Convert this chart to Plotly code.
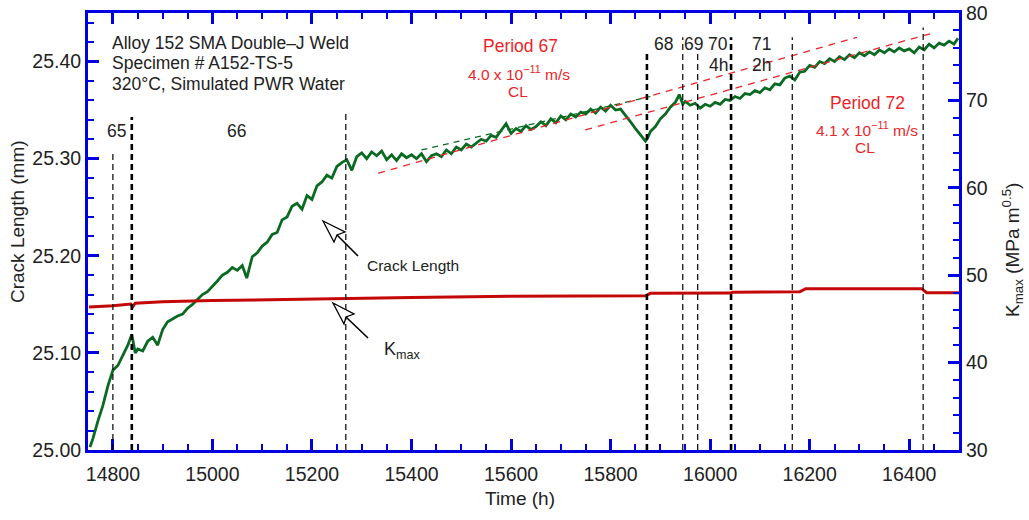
import plotly.graph_objects as go

# ---------------- data ----------------
time_h = [14754, 14760, 14770, 14780, 14790, 14800, 14810, 14820, 14830, 14838, 14845, 14850,
          14860, 14870, 14880, 14890, 14900, 14910, 14920, 14930, 14940, 14950, 14960, 14970,
          14980, 14990, 15000, 15010, 15020, 15030, 15040, 15050, 15060, 15069, 15080, 15090,
          15100, 15110, 15120, 15130, 15140, 15150, 15160, 15170, 15180, 15190, 15200, 15210,
          15220, 15230, 15240, 15250, 15260, 15270, 15280, 15290, 15300, 15310, 15320, 15330,
          15340, 15350, 15360, 15370, 15380, 15390, 15400, 15410, 15420, 15430, 15440, 15450,
          15460, 15470, 15480, 15490, 15500, 15510, 15520, 15530, 15540, 15550, 15560, 15570,
          15580, 15590, 15600, 15610, 15620, 15630, 15640, 15650, 15660, 15670, 15680, 15690,
          15700, 15710, 15720, 15730, 15740, 15750, 15760, 15770, 15780, 15790, 15800, 15810,
          15820, 15830, 15840, 15850, 15860, 15870, 15875, 15880, 15890, 15900, 15910, 15920,
          15930, 15938, 15945, 15950, 15960, 15970, 15980, 15990, 16000, 16010, 16020, 16030,
          16040, 16050, 16060, 16070, 16080, 16090, 16100, 16110, 16120, 16130, 16140, 16150,
          16160, 16170, 16180, 16190, 16200, 16210, 16220, 16230, 16240, 16250, 16260, 16270,
          16280, 16290, 16300, 16310, 16320, 16330, 16340, 16350, 16360, 16370, 16380, 16390,
          16400, 16410, 16420, 16430, 16440, 16450, 16460, 16470, 16480, 16490, 16498]
crack_mm = [25.003, 25.012, 25.030, 25.046, 25.066, 25.082, 25.087, 25.098, 25.108, 25.119, 25.100, 25.104,
            25.102, 25.112, 25.116, 25.108, 25.124, 25.132, 25.135, 25.138, 25.140, 25.146, 25.150, 25.155,
            25.160, 25.163, 25.168, 25.174, 25.180, 25.183, 25.188, 25.185, 25.190, 25.177, 25.199, 25.203,
            25.210, 25.214, 25.222, 25.224, 25.237, 25.240, 25.251, 25.254, 25.248, 25.262, 25.258, 25.272,
            25.276, 25.283, 25.280, 25.292, 25.296, 25.299, 25.288, 25.302, 25.306, 25.300, 25.307, 25.303,
            25.308, 25.299, 25.304, 25.298, 25.305, 25.301, 25.304, 25.300, 25.305, 25.297, 25.303, 25.305,
            25.302, 25.309, 25.305, 25.312, 25.309, 25.315, 25.312, 25.316, 25.320, 25.318, 25.324, 25.322,
            25.329, 25.336, 25.326, 25.331, 25.328, 25.334, 25.330, 25.333, 25.338, 25.334, 25.341, 25.337,
            25.344, 25.340, 25.346, 25.343, 25.348, 25.346, 25.351, 25.347, 25.353, 25.349, 25.355, 25.350,
            25.351, 25.345, 25.338, 25.331, 25.325, 25.318, 25.322, 25.328, 25.333, 25.341, 25.346, 25.353,
            25.358, 25.366, 25.356, 25.359, 25.355, 25.357, 25.352, 25.356, 25.354, 25.358, 25.356, 25.361,
            25.360, 25.364, 25.362, 25.367, 25.366, 25.370, 25.368, 25.373, 25.371, 25.377, 25.376, 25.383,
            25.385, 25.381, 25.389, 25.390, 25.396, 25.394, 25.400, 25.398, 25.403, 25.400, 25.405, 25.402,
            25.407, 25.404, 25.409, 25.406, 25.410, 25.407, 25.412, 25.409, 25.413, 25.410, 25.414, 25.411,
            25.413, 25.409, 25.415, 25.412, 25.418, 25.414, 25.419, 25.417, 25.421, 25.418, 25.424]

kmax_time = [14752, 14800, 14836, 14840, 14845, 14900, 15000, 15100, 15266, 15400, 15600, 15870,
             15880, 16040, 16045, 16180, 16192, 16425, 16435, 16500]
kmax_val = [46.35, 46.5, 46.7, 46.4, 46.8, 46.95, 47.1, 47.2, 47.3, 47.45, 47.6, 47.65,
            47.93, 47.95, 48.05, 48.1, 48.46, 48.46, 48.0, 48.0]

# fitted crack growth rate lines (period 67 and period 72)
fit67_time = [15333, 16295]
fit67_mm = [25.285, 25.425]
fit72_time = [15749, 16448]
fit72_mm = [25.3296, 25.4295]
fitg_time = [15420, 15880]
fitg_mm = [25.309, 25.364]

# period boundaries: (time, top of line in mm, heavy?)
bound_time = [14800, 14838, 15268, 15873, 15945, 15975, 16042, 16165, 16428]
bound_top = [25.309, 25.343, 25.348, 25.410, 25.425, 25.410, 25.425, 25.425, 25.435]
bound_heavy = [False, True, False, True, False, False, True, False, False]

x_ticks = [14800, 15000, 15200, 15400, 15600, 15800, 16000, 16200, 16400]

# ---------------- figure ----------------
W, H = 1029, 520
L, R, T, B = 88, 959, 13, 450
PW, PH = R - L, B - T
BLUE = "#0000e0"
GREEN = "#0b6a22"
KRED = "#c40808"
TRED = "#e8262a"
FONT = "Liberation Sans, Arial, sans-serif"


def px(x):
    return (x - L) / PW


def py(y):
    return (B - y) / PH


X0, X1 = 14750, 16500
Y0, Y1 = 25.0, 25.45


def dx(x):
    return X0 + (x - L) / PW * (X1 - X0)


def dy(y):
    return Y0 + (B - y) / PH * (Y1 - Y0)


fig = go.Figure()

fig.add_trace(go.Scatter(x=kmax_time, y=kmax_val, mode="lines", yaxis="y2",
                         line=dict(color=KRED, width=3), hoverinfo="skip", showlegend=False))
fig.add_trace(go.Scatter(x=fitg_time, y=fitg_mm, mode="lines",
                         line=dict(color=GREEN, width=1.2, dash="6px,5px"), showlegend=False))
fig.add_trace(go.Scatter(x=time_h, y=crack_mm, mode="lines",
                         line=dict(color=GREEN, width=2.8), showlegend=False))
for tx, ty in ((fit67_time, fit67_mm), (fit72_time, fit72_mm)):
    fig.add_trace(go.Scatter(x=tx, y=ty, mode="lines",
                             line=dict(color=TRED, width=1.3, dash="7px,6px"), showlegend=False))

shapes = []
for t, top, heavy in zip(bound_time, bound_top, bound_heavy):
    shapes.append(dict(type="line", xref="x", yref="y", x0=t, x1=t, y0=Y0, y1=top,
                       line=dict(color="black", width=2.6 if heavy else 1.2,
                                 dash="6px,4px")))


def arrow(tip, c1, notch, c2, tail):
    path = "M {} {} L {} {} L {} {} L {} {} Z".format(
        dx(tip[0]), dy(tip[1]), dx(c1[0]), dy(c1[1]), dx(notch[0]), dy(notch[1]),
        dx(c2[0]), dy(c2[1]))
    shapes.append(dict(type="path", xref="x", yref="y", path=path,
                       fillcolor="white", line=dict(color="black", width=1.3)))
    shapes.append(dict(type="line", xref="x", yref="y", x0=dx(notch[0]), y0=dy(notch[1]),
                       x1=dx(tail[0]), y1=dy(tail[1]), line=dict(color="black", width=1.6)))


arrow((323, 221), (345, 232), (337, 235), (334, 242), (358, 256))
arrow((333, 303), (354, 314), (346, 317), (344, 324), (368, 338))

fig.update_layout(shapes=shapes)

ann = []


def text(x, y, s, size=17.5, color="#222222", xanchor="center", angle=0):
    ann.append(dict(x=px(x), y=py(y), xref="paper", yref="paper", text=s, showarrow=False,
                    xanchor=xanchor, yanchor="middle", textangle=angle,
                    font=dict(family=FONT, size=size, color=color)))


text(110, 43, "Alloy 152 SMA Double–J Weld", 17.5, xanchor="left")
text(110, 63, "Specimen # A152-TS-5", 17.5, xanchor="left")
text(110, 84, "320°C, Simulated PWR Water", 17.5, xanchor="left")
text(116, 131, "65")
text(236, 131, "66")
text(663, 44, "68")
text(693, 44, "69")
text(718, 44, "70")
text(718, 65, "4h")
text(761, 44, "71")
text(761, 65, "2h")
text(520, 46, "Period 67", 17.5, TRED)
text(519, 73, "4.0 x 10<sup>−11</sup> m/s", 15.5, TRED)
text(518, 92, "CL", 15.5, TRED)
text(867, 103, "Period 72", 17.5, TRED)
text(867, 129, "4.1 x 10<sup>−11</sup> m/s", 15.5, TRED)
text(865, 147, "CL", 15.5, TRED)
text(365, 265, "Crack Length", 15.5, xanchor="left")
text(382, 350, "K<sub>max</sub>", 18, xanchor="left")
text(520, 498, "Time (h)", 19)
text(17, 222, "Crack Length (mm)", 19, angle=-90)
text(1013, 250, "K<sub>max</sub> (MPa m<sup>0.5</sup>)", 19, angle=-90)

fig.update_layout(annotations=ann)

axis_common = dict(showline=True, linecolor=BLUE, linewidth=3, ticks="inside", ticklen=11,
                   tickwidth=2.5, tickcolor=BLUE, showgrid=False, zeroline=False,
                   tickfont=dict(family=FONT, size=19.5, color="#222222"))

fig.update_layout(
    width=W, height=H,
    margin=dict(l=L, r=W - R, t=T, b=H - B, autoexpand=False),
    paper_bgcolor="white", plot_bgcolor="white",
    xaxis=dict(range=[X0, X1], tickmode="array", tickvals=x_ticks,
               ticktext=[str(v) for v in x_ticks], mirror="ticks", ticklabelstandoff=5,
               minor=dict(dtick=50, tick0=14750, ticks="inside", ticklen=6, tickwidth=2,
                          tickcolor=BLUE),
               **axis_common),
    yaxis=dict(range=[Y0, Y1], tick0=25.0, dtick=0.1, tickformat=".2f",
               minor=dict(dtick=0.02, ticks="inside", ticklen=6, tickwidth=2, tickcolor=BLUE),
               **axis_common),
    yaxis2=dict(range=[30, 80], tick0=30, dtick=10, overlaying="y", side="right",
                minor=dict(dtick=2, ticks="inside", ticklen=6, tickwidth=2, tickcolor=BLUE),
                **axis_common),
    showlegend=False,
)

fig.write_html("out.html")
